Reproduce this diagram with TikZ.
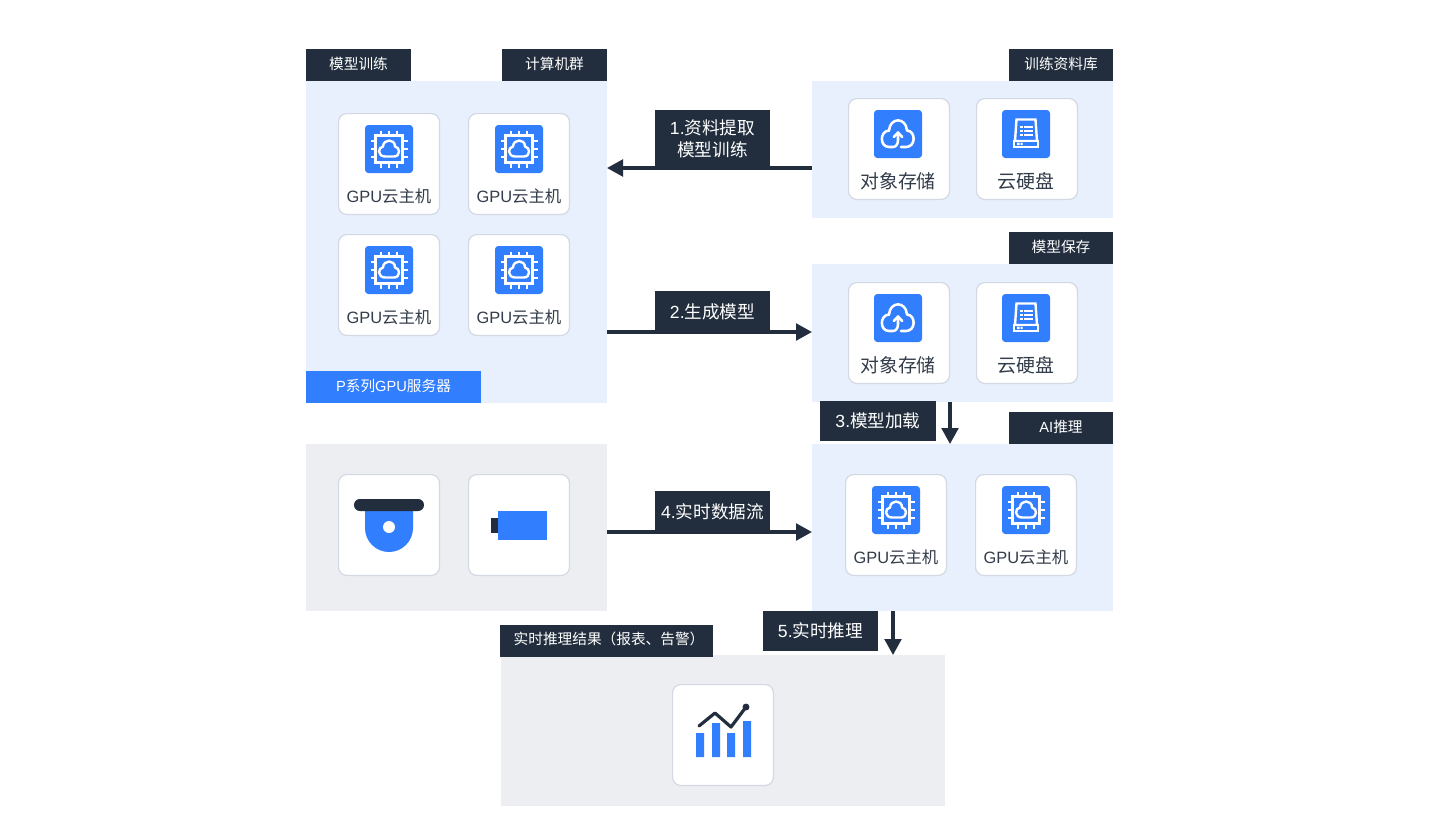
\documentclass[tikz,border=0pt]{standalone}
\usepackage{fontspec}
\setmainfont{Liberation Sans}
\newfontfamily\cjk{Noto Sans CJK SC}
\newcommand{\zh}[1]{{\cjk #1}}
\usetikzlibrary{arrows.meta,calc}
\definecolor{panelblue}{HTML}{E8F0FE}
\definecolor{panelgrey}{HTML}{ECEEF2}
\definecolor{darkbar}{HTML}{222E3D}
\definecolor{brand}{HTML}{317EFF}
\definecolor{cardline}{HTML}{D3D8E2}
\definecolor{inktext}{HTML}{333C4A}
\newcommand{\bx}[6][]{\node[boxbase,#1,minimum width=#5*0.75pt,minimum height=#6*0.75pt] (#2) at (#3,#4) {};}
\newcommand{\card}[3]{\node[cardbox] (#1) at ($(#2,#3)+(0.6,0.6)$) {};}
\newcommand{\cardchip}[3]{\card{#1}{#2}{#3}\pic at ($(#2,#3)+(51,36)$) {chipicon};\node[cardlabelS] (#1t) at ($(#2,#3)+(51,83)$) {GPU\zh{云主机}};}
\newcommand{\cardstore}[3]{\card{#1}{#2}{#3}\pic at ($(#2,#3)+(50,36)$) {cloudicon};\node[cardlabelL] (#1t) at ($(#2,#3)+(50,83)$) {\zh{对象存储}};}
\newcommand{\carddisk}[3]{\card{#1}{#2}{#3}\pic at ($(#2,#3)+(50,36)$) {diskicon};\node[cardlabelL] (#1t) at ($(#2,#3)+(50,83)$) {\zh{云硬盘}};}
\tikzset{
  x=0.75pt,y=-0.75pt,
  boxbase/.style={rectangle,inner sep=0pt,outer sep=0pt,draw=none,anchor=north west},
  bluepanel/.style={fill=panelblue},
  greypanel/.style={fill=panelgrey},
  darktab/.style={fill=darkbar},
  bluetab/.style={fill=brand},
  tabtext/.style={text=white,font=\fontsize{11}{13}\selectfont,inner sep=0pt,yshift=0.6pt},
  steptext/.style={text=white,font=\fontsize{13.2}{16.5}\selectfont,inner sep=0pt,align=center},
  cardbox/.style={rectangle,anchor=north west,rounded corners=6pt,draw=cardline,line width=0.9pt,fill=white,minimum width=75.6pt,minimum height=75.6pt,inner sep=0pt,outer sep=0pt},
  cardlabelS/.style={text=inktext,font=\fontsize{12.3}{15}\selectfont,inner sep=0pt},
  cardlabelL/.style={text=inktext,font=\fontsize{14.2}{17}\selectfont,inner sep=0pt},
  flow/.style={draw=darkbar,line width=2.4pt,-{Triangle[length=12pt,width=12.5pt]}},
  chipicon/.pic={
    \fill[brand,rounded corners=2.5pt] (-24,-24) rectangle (24,24);
    \draw[white,line width=1.9pt] (-13.3,-13.3) rectangle (13.3,13.3);
    \foreach \d in {-8,0,8}{
      \draw[white,line width=1.9pt] (\d,-18.5) -- (\d,-13.3) (\d,13.3) -- (\d,18.5) (-18.5,\d) -- (-13.3,\d) (13.3,\d) -- (18.5,\d);
    }
    \draw[white,line width=1.8pt,line join=round] (-4,7.5) .. controls (-11.5,7.5) and (-11.5,-2) .. (-6,-2.5) .. controls (-5.5,-10.5) and (6,-10.5) .. (6,-2.5) .. controls (11.5,-2) and (11.5,7.5) .. (5,7.5) -- cycle;
  },
  cloudicon/.pic={
    \fill[brand,rounded corners=2.5pt] (-24,-24) rectangle (24,24);
    \draw[white,line width=1.9pt,line join=round,line cap=round] (3,13) -- (8,13) .. controls (18,13) and (18,-3) .. (9,-3.5) .. controls (8,-17) and (-8,-17) .. (-9,-3.5) .. controls (-18.5,-3) and (-18.5,13) .. (-9,13) -- (-5,13) .. controls (-2,13) and (0,10) .. (0,6) -- (0,-1);
    \draw[white,line width=1.9pt,line cap=round,line join=round] (-4.2,3) -- (0,-1.5) -- (4.2,3);
  },
  diskicon/.pic={
    \fill[brand,rounded corners=2.5pt] (-24,-24) rectangle (24,24);
    \draw[white,line width=1.8pt,line join=miter] (-9.5,-14.5) -- (9.5,-14.5) -- (11,7) -- (-11,7) -- cycle;
    \draw[white,line width=1.8pt,fill=brand] (-12,7) rectangle (12,12.8);
    \fill[white] (-9,8.7) rectangle (-6.5,11) (-5.5,8.7) rectangle (-3.5,11);
    \foreach \yy in {-7.3,-3.3,1}{
      \fill[white] (-5.7,\yy-1.1) rectangle (-3,\yy+1.1);
      \fill[white] (-2.2,\yy-1.1) rectangle (6.6,\yy+1.1);
    }
  }
}
\begin{document}
\begin{tikzpicture}
\useasboundingbox (0,0) rectangle (1440,836);
\fill[white] (0,0) rectangle (1440,836);

% panels
\bx[bluepanel]{train}{306}{81}{301}{322}
\bx[bluepanel]{lib}{812}{81}{301}{137}
\bx[bluepanel]{save}{812}{264}{301}{138}
\bx[bluepanel]{infer}{812}{444}{301}{167}
\bx[greypanel]{cams}{306}{444}{301}{167}
\bx[greypanel]{result}{501}{655}{444}{151}

% tabs
\bx[darktab]{tabA}{306}{49}{105}{32}
\node[tabtext] (tabAt) at (tabA.center) {\zh{模型训练}};
\bx[darktab]{tabB}{502}{49}{105}{32}
\node[tabtext] (tabBt) at (tabB.center) {\zh{计算机群}};
\bx[darktab]{tabC}{1009}{49}{104}{32}
\node[tabtext] (tabCt) at (tabC.center) {\zh{训练资料库}};
\bx[darktab]{tabD}{1009}{232}{104}{32}
\node[tabtext] (tabDt) at (tabD.center) {\zh{模型保存}};
\bx[darktab]{tabE}{1009}{412}{104}{32}
\node[tabtext] (tabEt) at (tabE.center) {AI\zh{推理}};
\bx[bluetab]{tabF}{306}{371}{175}{32}
\node[tabtext] (tabFt) at (tabF.center) {P\zh{系列}GPU\zh{服务器}};
\bx[darktab]{tabG}{500}{625}{213}{32}
\node[tabtext] (tabGt) at (609,640) {\zh{实时推理结果（报表、告警）}};

% cards
\cardchip{g1}{338}{113}
\cardchip{g2}{468}{113}
\cardchip{g3}{338}{234}
\cardchip{g4}{468}{234}
\cardstore{s1}{848}{98}
\carddisk{d1}{976}{98}
\cardstore{s2}{848}{282}
\carddisk{d2}{976}{282}
\cardchip{g5}{845}{474}
\cardchip{g6}{975}{474}

% cameras
\card{cam1}{338}{474}
\fill[brand] (365,508) -- (413,508) -- (413,528) arc[start angle=0,end angle=-180,radius=18pt] -- cycle;
\fill[white] (389,527) circle[radius=4.5pt];
\fill[darkbar,rounded corners=4.4pt] (354,499) rectangle (424,511);
\card{cam2}{468}{474}
\fill[brand] (498,511) rectangle (547,540);
\fill[darkbar] (491,518) rectangle (498,533);

% chart
\card{chart}{672}{684}
\fill[brand] (696,733) rectangle (704,757) (712,723) rectangle (720,757) (727,733) rectangle (735,757) (743,721) rectangle (751,757);
\draw[darkbar,line width=2.4pt,line cap=round,line join=round] (699,726) -- (715,713) -- (731,727) -- (746,707);
\fill[darkbar] (746,707) circle[radius=2.6pt];

% step labels
\bx[darktab]{st1}{655}{110}{115}{58}
\node[steptext] (st1t) at (st1.center) {1.\zh{资料提取}\\\zh{模型训练}};
\bx[darktab]{st2}{655}{291}{115}{41}
\node[steptext] (st2t) at (st2.center) {2.\zh{生成模型}};
\bx[darktab]{st3}{820}{401}{116}{40}
\node[steptext] (st3t) at (st3.center) {3.\zh{模型加载}};
\bx[darktab]{st4}{655}{491}{115}{41}
\node[steptext] (st4t) at (st4.center) {4.\zh{实时数据流}};
\bx[darktab]{st5}{763}{611}{115}{40}
\node[steptext] (st5t) at (st5.center) {5.\zh{实时推理}};

% connectors
\coordinate (x3) at (950,0);
\coordinate (x5) at (893,0);
\draw[flow] (lib.west |- st1.south) -- (train.east |- st1.south);
\draw[flow] (train.east |- st2.south) -- (save.west |- st2.south);
\draw[flow] (x3 |- save.south) -- (x3 |- infer.north);
\draw[flow] (cams.east |- st4.south) -- (infer.west |- st4.south);
\draw[flow] (x5 |- infer.south) -- (x5 |- result.north);
\end{tikzpicture}
\end{document}
